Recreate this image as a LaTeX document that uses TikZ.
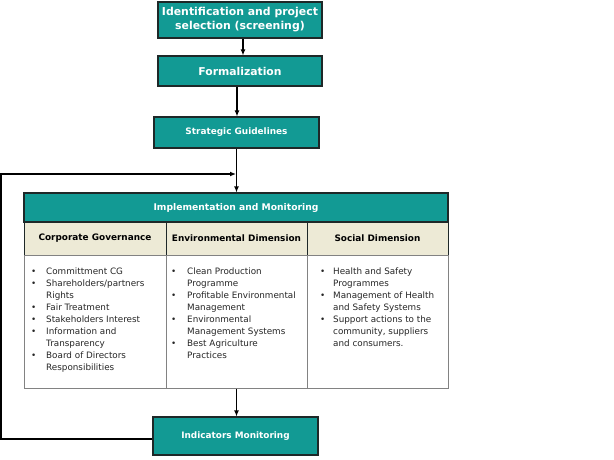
\documentclass[tikz,border=0pt]{standalone}
\usepackage{fontspec}
\setmainfont{DejaVu Sans}
\usetikzlibrary{arrows.meta}
\definecolor{tealfill}{RGB}{18,154,148}
\definecolor{beigefill}{RGB}{237,234,214}
\definecolor{darkedge}{RGB}{30,40,40}
\definecolor{greyedge}{RGB}{130,130,130}
\newcommand{\bodyfont}{\fontsize{8.8}{12}\selectfont}
\begin{document}
\begin{tikzpicture}[x=1pt,y=-1pt,
  tealbox/.style={draw=darkedge, fill=tealfill, text=white, line width=1.1pt, inner sep=0pt, align=center},
  colhead/.style={draw=darkedge, fill=beigefill, line width=1pt, inner sep=0pt, minimum height=33pt, font=\bfseries\fontsize{8.9}{11}\selectfont},
  colbody/.style={draw=greyedge, fill=white, line width=1pt, inner sep=0pt, minimum height=133pt},
  listnode/.style={anchor=north west, inner sep=0pt, font=\bodyfont, text=black!85},
  arr/.style={draw=black, line width=1.2pt, -{Latex[length=6pt,width=5pt]}}]
\useasboundingbox (0,0) rectangle (614,460);
% top chain
\node[tealbox, minimum width=164pt, minimum height=36pt, font=\bfseries\fontsize{10.9}{14}\selectfont] (ident) at (240,20) {Identification and project\\selection (screening)};
\node[tealbox, minimum width=164pt, minimum height=30pt, font=\bfseries\fontsize{10.8}{13}\selectfont] (form) at (240,71) {Formalization};
\node[tealbox, minimum width=165pt, minimum height=31pt, font=\bfseries\fontsize{8.9}{11}\selectfont] (strat) at (236.5,132.5) {Strategic Guidelines};
% table
\node[tealbox, minimum width=424pt, minimum height=29pt, font=\bfseries\fontsize{9.2}{11}\selectfont] (impl) at (236,207.5) {Implementation and Monitoring};
\node[colhead, minimum width=142pt] (c1h) at (95,238.5) {Corporate Governance};
\node[colhead, minimum width=141pt] (c2h) at (236.5,238.5) {Environmental Dimension};
\node[colhead, minimum width=141pt] (c3h) at (377.5,238.5) {Social Dimension};
\node[colbody, minimum width=142pt] (c1b) at (95,321.5) {};
\node[colbody, minimum width=141pt] (c2b) at (236.5,321.5) {};
\node[colbody, minimum width=141pt] (c3b) at (377.5,321.5) {};
\node[listnode] (l1) at (31,265.5) {\begin{tabular}{@{}p{15pt}@{}l@{}}
\textbullet & Committment CG\\
\textbullet & Shareholders/partners\\
 & Rights\\
\textbullet & Fair Treatment\\
\textbullet & Stakeholders Interest\\
\textbullet & Information and\\
 & Transparency\\
\textbullet & Board of Directors\\
 & Responsibilities
\end{tabular}};
\node[listnode] (l2) at (171,265.5) {\begin{tabular}{@{}p{16pt}@{}l@{}}
\textbullet & Clean Production\\
 & Programme\\
\textbullet & Profitable Environmental\\
 & Management\\
\textbullet & Environmental\\
 & Management Systems\\
\textbullet & Best Agriculture\\
 & Practices
\end{tabular}};
\node[listnode] (l3) at (320,265.5) {\begin{tabular}{@{}p{13pt}@{}l@{}}
\textbullet & Health and Safety\\
 & Programmes\\
\textbullet & Management of Health\\
 & and Safety Systems\\
\textbullet & Support actions to the\\
 & community, suppliers\\
 & and consumers.
\end{tabular}};
% bottom
\node[tealbox, minimum width=165pt, minimum height=38pt, font=\bfseries\fontsize{8.9}{11}\selectfont] (ind) at (235.5,436) {Indicators Monitoring};
% connectors
\draw[arr] ([xshift=3pt]ident.south) -- ([xshift=3pt]ident.south |- form.north);
\draw[arr] ([xshift=-3pt]form.south) -- ([xshift=-3pt]form.south |- strat.north);
\draw[arr] (strat.south) -- (strat.south |- impl.north);
\draw[arr] (c2b.south) -- (c2b.south |- ind.north);
\coordinate (fb1) at (1,439);
\coordinate (fb2) at (1,174);
\coordinate (fb3) at (236,174);
\draw[arr] ([yshift=-3pt]ind.west) -- (fb1) -- (fb2) -- (fb3);
\end{tikzpicture}
\end{document}
